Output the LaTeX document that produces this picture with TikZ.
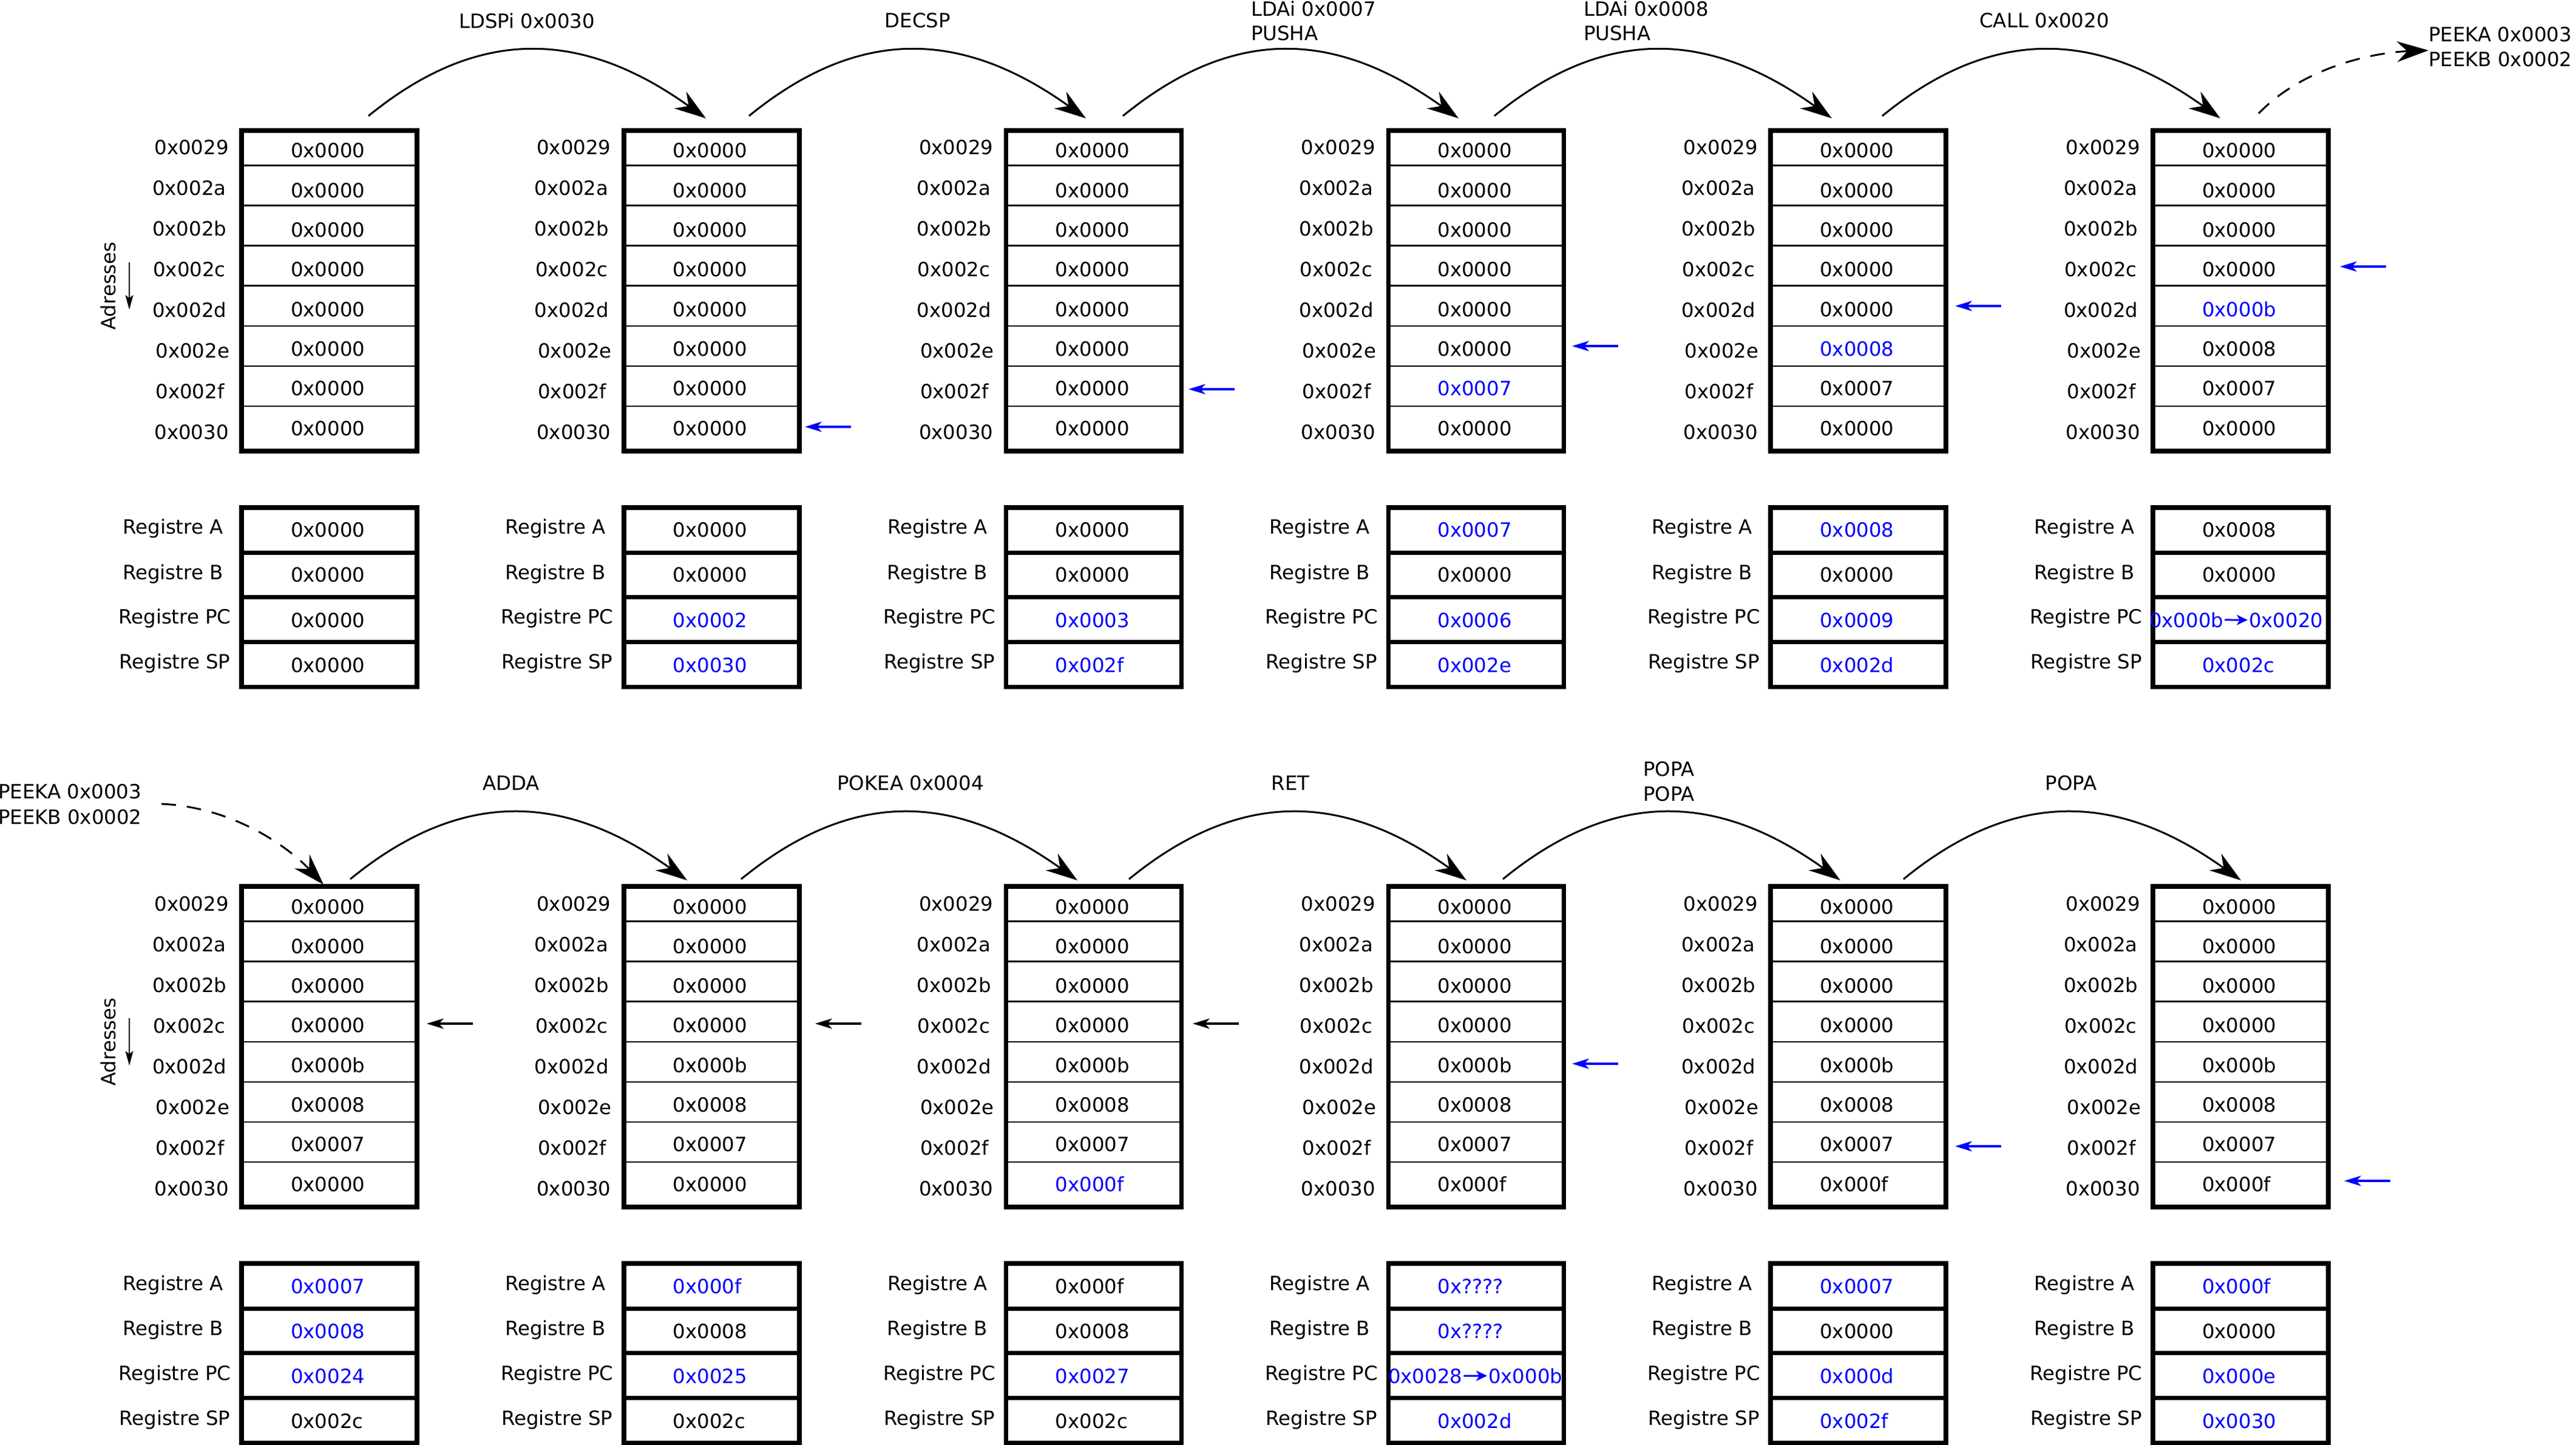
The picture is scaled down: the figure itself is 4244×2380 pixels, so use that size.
\documentclass[tikz,border=0pt]{standalone}
\usepackage{fontspec}
\setmainfont{DejaVu Sans}
\usetikzlibrary{arrows.meta}
\newcommand\dvsize{\fontsize{9.22pt}{11pt}\selectfont}
\definecolor{valblue}{RGB}{0,0,255}
\tikzset{
  lbl/.style={font=\dvsize, inner sep=0pt, outer sep=0pt},
  boxline/.style={line width=0.77mm},
  cellline/.style={line width=0.26mm},
  curvearrow/.style={line width=0.3mm, -{Stealth[length=5.2mm, width=3.4mm, inset=1.7mm]}},
  dasharrow/.style={curvearrow, dash pattern=on 2.4mm off 1.8mm},
  ptr/.style={line width=0.33mm, -{Stealth[length=2.8mm, width=1.7mm, inset=0.8mm]}},
  addrarrow/.style={line width=0.2mm, -{Stealth[length=2.4mm, width=1.3mm, inset=0.5mm]}},
  pcarrow/.style={line width=0.3mm, -{Stealth[length=1.8mm, width=1.7mm, inset=0.5mm]}, shorten <=0.2mm, shorten >=0.2mm},
}
% #1 id, #2 left x, #3 y offset, #4 memory values (val/colour), #5 registers (index/val/colour)
\newcommand\panel[5]{%
  \begin{scope}[shift={(#2,#3)}]
    \foreach \yy in {272.5,338.6,404.7,470.8,536.9,603,669.1}
      \draw[cellline] (0,\yy) -- (289,\yy);
    \draw[boxline] (0,215) rectangle (289,743);
    \foreach \a/\dx [count=\k from 0] in {0029/-143.6,002a/-147,002b/-147,002c/-145.7,002d/-147,002e/-141.5,002f/-141.5,0030/-143.6}
      \node[lbl, anchor=base west] (#1a\k) at ({\dx},{255+67*\k}) {0x\a};
    \foreach \v/\c [count=\k from 0] in {#4}
      \node[lbl, anchor=base west, text=\c] (#1m\k) at (81,{260+65.3*\k}) {\v};
    \foreach \yy in {910.4,983.4,1057.4}
      \draw[boxline] (0,\yy) -- (289,\yy);
    \draw[boxline] (0,836) rectangle (289,1131.5);
    \node[lbl, anchor=base] (#1la) at (-113,880) {Registre A};
    \node[lbl, anchor=base] (#1lb) at (-113,954) {Registre B};
    \node[lbl, anchor=base] (#1lpc) at (-110,1028) {Registre PC};
    \node[lbl, anchor=base] (#1lsp) at (-110,1102) {Registre SP};
    \foreach \k/\v/\c in {#5}
      \node[lbl, anchor=base west, text=\c] (#1r\k) at (81,{885+74*\k}) {\v};
  \end{scope}}
\begin{document}
\begin{tikzpicture}[x=0.1mm, y=-0.1mm]
\useasboundingbox (0,0) rectangle (4244,2380);

% ---------------- top row ----------------
\panel{p1}{398}{0}{0x0000/black,0x0000/black,0x0000/black,0x0000/black,0x0000/black,0x0000/black,0x0000/black,0x0000/black}
  {0/0x0000/black,1/0x0000/black,2/0x0000/black,3/0x0000/black}
\panel{p2}{1027.8}{0}{0x0000/black,0x0000/black,0x0000/black,0x0000/black,0x0000/black,0x0000/black,0x0000/black,0x0000/black}
  {0/0x0000/black,1/0x0000/black,2/0x0002/valblue,3/0x0030/valblue}
\panel{p3}{1657.6}{0}{0x0000/black,0x0000/black,0x0000/black,0x0000/black,0x0000/black,0x0000/black,0x0000/black,0x0000/black}
  {0/0x0000/black,1/0x0000/black,2/0x0003/valblue,3/0x002f/valblue}
\panel{p4}{2287.4}{0}{0x0000/black,0x0000/black,0x0000/black,0x0000/black,0x0000/black,0x0000/black,0x0007/valblue,0x0000/black}
  {0/0x0007/valblue,1/0x0000/black,2/0x0006/valblue,3/0x002e/valblue}
\panel{p5}{2917.2}{0}{0x0000/black,0x0000/black,0x0000/black,0x0000/black,0x0000/black,0x0008/valblue,0x0007/black,0x0000/black}
  {0/0x0008/valblue,1/0x0000/black,2/0x0009/valblue,3/0x002d/valblue}
\panel{p6}{3547}{0}{0x0000/black,0x0000/black,0x0000/black,0x0000/black,0x000b/valblue,0x0008/black,0x0007/black,0x0000/black}
  {0/0x0008/black,1/0x0000/black,3/0x002c/valblue}
\node[lbl, anchor=base west, text=valblue] (p6pca) at (3541,1033) {0x000b};
\node[lbl, anchor=base west, text=valblue] (p6pcb) at (3705,1033) {0x0020};
\draw[pcarrow, valblue] (p6pca.east) -- (p6pcb.west);

% ---------------- bottom row ----------------
\panel{p7}{398}{1245}{0x0000/black,0x0000/black,0x0000/black,0x0000/black,0x000b/black,0x0008/black,0x0007/black,0x0000/black}
  {0/0x0007/valblue,1/0x0008/valblue,2/0x0024/valblue,3/0x002c/black}
\panel{p8}{1027.8}{1245}{0x0000/black,0x0000/black,0x0000/black,0x0000/black,0x000b/black,0x0008/black,0x0007/black,0x0000/black}
  {0/0x000f/valblue,1/0x0008/black,2/0x0025/valblue,3/0x002c/black}
\panel{p9}{1657.6}{1245}{0x0000/black,0x0000/black,0x0000/black,0x0000/black,0x000b/black,0x0008/black,0x0007/black,0x000f/valblue}
  {0/0x000f/black,1/0x0008/black,2/0x0027/valblue,3/0x002c/black}
\panel{p10}{2287.4}{1245}{0x0000/black,0x0000/black,0x0000/black,0x0000/black,0x000b/black,0x0008/black,0x0007/black,0x000f/black}
  {0/0x????/valblue,1/0x????/valblue,3/0x002d/valblue}
\node[lbl, anchor=base west, text=valblue] (p10pca) at (2287,2278) {0x0028};
\node[lbl, anchor=base west, text=valblue] (p10pcb) at (2452,2278) {0x000b};
\draw[pcarrow, valblue] (p10pca.east) -- (p10pcb.west);
\panel{p11}{2917.2}{1245}{0x0000/black,0x0000/black,0x0000/black,0x0000/black,0x000b/black,0x0008/black,0x0007/black,0x000f/black}
  {0/0x0007/valblue,1/0x0000/black,2/0x000d/valblue,3/0x002f/valblue}
\panel{p12}{3547}{1245}{0x0000/black,0x0000/black,0x0000/black,0x0000/black,0x000b/black,0x0008/black,0x0007/black,0x000f/black}
  {0/0x000f/valblue,1/0x0000/black,2/0x000e/valblue,3/0x0030/valblue}

% ---------------- "Adresses" ----------------
\node[lbl, rotate=90, anchor=base] (adr1) at (190.5,471) {Adresses};
\coordinate (adr1s) at (213,432); \coordinate (adr1e) at (213,510);
\draw[addrarrow] (adr1s) -- (adr1e);
\node[lbl, rotate=90, anchor=base] (adr2) at (190.5,1716) {Adresses};
\coordinate (adr2s) at (213,1677); \coordinate (adr2e) at (213,1755);
\draw[addrarrow] (adr2s) -- (adr2e);

% ---------------- stack pointers ----------------
\foreach \id/\tip/\yy/\col in {2/1326/703/valblue, 3/1958/641/valblue, 4/2590/570/valblue, 5/3221/504/valblue, 6/3855/439/valblue,
    7/703/1686/black, 8/1343/1686/black, 9/1965/1686/black, 10/2590/1752/valblue, 11/3221/1888/valblue, 12/3862/1945/valblue}{
  \coordinate (sp\id tip) at (\tip,\yy);
  \coordinate (sp\id tail) at ({\tip+76},\yy);
  \draw[ptr, \col] (sp\id tail) -- (sp\id tip);
}

% ---------------- instruction arrows, top ----------------
\node[lbl, anchor=base] (i1) at (868,47) {LDSPi 0x0030};
\node[lbl, anchor=base] (i2) at (1512,46) {DECSP};
\node[lbl, anchor=base west] (i3a) at (2061,27) {LDAi 0x0007};
\node[lbl, anchor=base west] (i3b) at (2061,67) {PUSHA};
\node[lbl, anchor=base west] (i4a) at (2609,27) {LDAi 0x0008};
\node[lbl, anchor=base west] (i4b) at (2609,67) {PUSHA};
\node[lbl, anchor=base] (i5) at (3368,46) {CALL 0x0020};
\node[lbl, anchor=base west] (i6a) at (4001,69) {PEEKA 0x0003};
\node[lbl, anchor=base west] (i6b) at (4001,110) {PEEKB 0x0002};

\foreach \n/\sx/\sy/\ex/\ey in {1/607/191/1163/195, 2/1234/191/1789/195, 3/1850/191/2403/195, 4/2462/191/3018/195, 5/3101/191/3658/195,
    7/577/1448/1132/1450, 8/1221/1448/1775/1450, 9/1860/1448/2416/1450, 10/2476/1448/3032/1450, 11/3136/1448/3692/1450}{
  \coordinate (c\n s) at (\sx,\sy);
  \coordinate (c\n e) at (\ex,\ey);
  \draw[curvearrow] (c\n s) .. controls +(180,-147) and +(-205,-147) .. (c\n e);
}
\coordinate (d1s) at (3721,187);
\coordinate (d1e) at (4001,83);
\draw[dasharrow] (d1s) .. controls +(69,-72) and +(-100,4) .. (d1e);

% ---------------- instruction arrows, bottom ----------------
\node[lbl, anchor=base west] (i7a) at (-3,1315) {PEEKA 0x0003};
\node[lbl, anchor=base west] (i7b) at (-3,1357) {PEEKB 0x0002};
\node[lbl, anchor=base] (i8) at (842,1301) {ADDA};
\node[lbl, anchor=base] (i9) at (1500,1301) {POKEA 0x0004};
\node[lbl, anchor=base] (i10) at (2126,1301) {RET};
\node[lbl, anchor=base west] (i11a) at (2707,1278) {POPA};
\node[lbl, anchor=base west] (i11b) at (2707,1319) {POPA};
\node[lbl, anchor=base] (i12) at (3412,1301) {POPA};

\coordinate (d2s) at (266,1324);
\coordinate (d2e) at (533,1457);
\draw[dasharrow] (d2s) .. controls +(124,6) and +(-53,-57) .. (d2e);
\end{tikzpicture}
\end{document}
